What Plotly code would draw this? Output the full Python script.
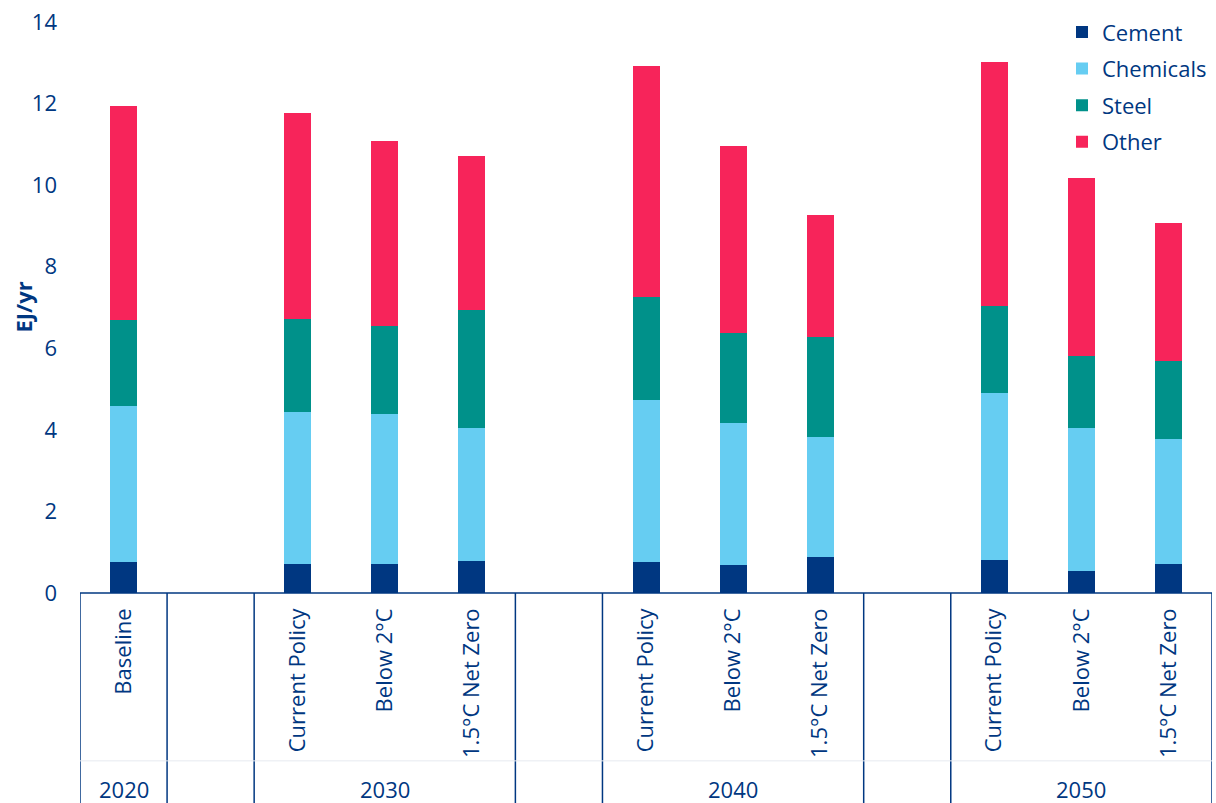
import plotly.graph_objects as go

# ---- data ----
years = ["2020", "2030", "2040", "2050"]
scenarios = [
    ["Baseline"],
    ["Current Policy", "Below 2°C", "1.5°C Net Zero"],
    ["Current Policy", "Below 2°C", "1.5°C Net Zero"],
    ["Current Policy", "Below 2°C", "1.5°C Net Zero"],
]
cement = [0.76, 0.71, 0.71, 0.78, 0.76, 0.69, 0.88, 0.81, 0.54, 0.71]
chemicals = [3.82, 3.73, 3.68, 3.26, 3.97, 3.48, 2.94, 4.09, 3.50, 3.06]
steel = [2.11, 2.28, 2.15, 2.90, 2.52, 2.20, 2.45, 2.13, 1.77, 1.92]
other = [5.25, 5.04, 4.54, 3.77, 5.67, 4.59, 2.99, 5.98, 4.36, 3.38]
y_title = "EJ/yr"

series = [
    ("Cement", cement, "#003781"),
    ("Chemicals", chemicals, "#66CDF2"),
    ("Steel", steel, "#00918A"),
    ("Other", other, "#F7245A"),
]

NAVY = "#003781"
FONT = "Open Sans"

# ---- slot layout: one empty slot between year groups ----
xpos, labels, group_bounds = [], [], []
slot = 0
for gi, (yr, scs) in enumerate(zip(years, scenarios)):
    if gi > 0:
        group_bounds.append((slot - 0.5, slot + 0.5))  # empty separator slot
        slot += 1
    start = slot
    for s in scs:
        xpos.append(slot)
        labels.append(s)
        slot += 1
    group_bounds.append((start - 0.5, slot - 0.5))
n_slots = slot

fig = go.Figure()
for i, (name, vals, col) in enumerate(series):
    fig.add_trace(go.Bar(
        x=xpos, y=vals, name=name, marker=dict(color=col, line=dict(width=0)),
        width=0.31, legendgroup=name,
    ))

# divider lines and year labels
edges = sorted(set([b for g in group_bounds for b in g]))
shapes = []
for e in edges:
    shapes.append(dict(type="line", xref="x", yref="paper", x0=e, x1=e, y0=0, y1=-0.38,
                       line=dict(color=NAVY, width=1.5)))
shapes.append(dict(type="line", xref="x", yref="paper", x0=-0.5, x1=n_slots - 0.5, y0=-0.294, y1=-0.294,
                   line=dict(color="#E6EAF0", width=1)))
shapes.append(dict(type="line", xref="x", yref="paper", x0=-0.5, x1=n_slots - 0.5, y0=0, y1=0,
                   line=dict(color=NAVY, width=1.5)))

annotations = []
gidx = 0
for gi, yr in enumerate(years):
    if gi > 0:
        gidx += 1
    a, b = group_bounds[gidx]
    annotations.append(dict(x=(a + b) / 2, y=-0.343, xref="x", yref="paper", text=yr,
                            showarrow=False, font=dict(family=FONT, size=22, color=NAVY),
                            xanchor="center", yanchor="middle"))
    gidx += 1

# y-axis title
annotations.append(dict(x=-0.0512, y=0.5, xref="paper", yref="paper", text="<b>%s</b>" % y_title,
                        textangle=-90, showarrow=False,
                        font=dict(family=FONT, size=22, color=NAVY),
                        xanchor="center", yanchor="middle"))

fig.update_layout(
    width=1216, height=803,
    margin=dict(l=80, r=4, t=22, b=210),
    barmode="stack",
    plot_bgcolor="white", paper_bgcolor="white",
    font=dict(family=FONT, size=22, color=NAVY),
    showlegend=True,
    legend=dict(x=1.0, xanchor="right", y=1.019, yanchor="top", traceorder="grouped",
                font=dict(family=FONT, size=22, color=NAVY), tracegroupgap=5,
                bgcolor="rgba(0,0,0,0)", itemwidth=30),
    xaxis=dict(range=[-0.5, n_slots - 0.5], tickmode="array", tickvals=xpos, ticktext=labels,
               tickangle=-90, showgrid=False, zeroline=False, showline=False, ticks="",
               ticklabelstandoff=10, tickfont=dict(family=FONT, size=22, color=NAVY)),
    yaxis=dict(range=[0, 14], dtick=2, showgrid=False, zeroline=False, showline=False,
               ticks="", ticklabelstandoff=22, tickfont=dict(family=FONT, size=22, color=NAVY)),
    shapes=shapes, annotations=annotations,
    bargap=0,
)

fig.write_html("out.html", config={"displayModeBar": False},
               post_script="document.body.style.margin='0';document.body.style.overflow='hidden';")
